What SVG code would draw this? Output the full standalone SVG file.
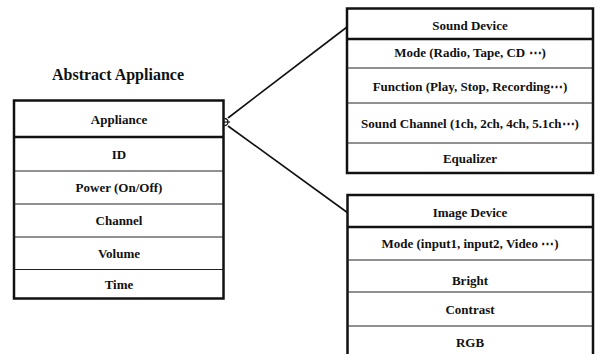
<svg xmlns="http://www.w3.org/2000/svg" width="598" height="354" viewBox="0 0 598 354">
<style>
text{font-family:"Liberation Serif","Times New Roman","DejaVu Serif",serif;font-weight:bold;font-size:13px;fill:#111;text-anchor:middle}
.title{font-size:16px}
.box{fill:#fff;stroke:#111;stroke-width:2.5}
.div{stroke:#222;stroke-width:1}
.hdiv{stroke:#111;stroke-width:2.5}
.conn{stroke:#111;stroke-width:1.6;fill:none}
</style>
<rect width="598" height="354" fill="#fff"/>
<text class="title" x="118" y="80">Abstract Appliance</text>
<g id="connectors">
<line class="conn" x1="228" y1="118" x2="347" y2="27"/>
<line class="conn" x1="228" y1="126" x2="348" y2="213"/>
</g>
<g id="appliance">
<rect class="box" x="14" y="100.5" width="209.5" height="198"/>
<line class="hdiv" x1="14" y1="137" x2="223.5" y2="137"/>
<line class="div" x1="14" y1="171" x2="223.5" y2="171"/>
<line class="div" x1="14" y1="204" x2="223.5" y2="204"/>
<line class="div" x1="14" y1="237" x2="223.5" y2="237"/>
<line class="div" x1="14" y1="269.5" x2="223.5" y2="269.5"/>
<text x="119" y="123.5">Appliance</text>
<text x="119" y="158.5">ID</text>
<text x="119" y="192">Power (On/Off)</text>
<text x="119" y="225">Channel</text>
<text x="119" y="258">Volume</text>
<text x="119" y="289">Time</text>
<path d="M224.5,118.5 A3.5,3.5 0 1 1 224.5,125.5" fill="none" stroke="#111" stroke-width="1.3"/>
<line x1="223.5" y1="122" x2="230" y2="122" stroke="#111" stroke-width="1.2"/>
</g>
<g id="sound-device">
<rect class="box" x="347" y="8.5" width="246" height="164.5"/>
<line class="hdiv" x1="347" y1="39" x2="593" y2="39"/>
<line class="div" x1="347" y1="68" x2="593" y2="68"/>
<line class="div" x1="347" y1="103" x2="593" y2="103"/>
<line class="div" x1="347" y1="143" x2="593" y2="143"/>
<text x="470" y="29.5">Sound Device</text>
<text x="470" y="56.5">Mode (Radio, Tape, CD ⋯)</text>
<text x="470" y="90.5">Function (Play, Stop, Recording⋯)</text>
<text x="470" y="127.5">Sound Channel (1ch, 2ch, 4ch, 5.1ch⋯)</text>
<text x="470" y="163">Equalizer</text>
</g>
<g id="image-device">
<rect class="box" x="347.5" y="195" width="245.5" height="170"/>
<line class="hdiv" x1="347.5" y1="227" x2="593" y2="227"/>
<line class="div" x1="347.5" y1="260" x2="593" y2="260"/>
<line class="div" x1="347.5" y1="292" x2="593" y2="292"/>
<line class="div" x1="347.5" y1="326" x2="593" y2="326"/>
<text x="470" y="217">Image Device</text>
<text x="470" y="247.5">Mode (input1, input2, Video ⋯)</text>
<text x="470" y="284.5">Bright</text>
<text x="470" y="314">Contrast</text>
<text x="470" y="346.5">RGB</text>
</g>
</svg>
